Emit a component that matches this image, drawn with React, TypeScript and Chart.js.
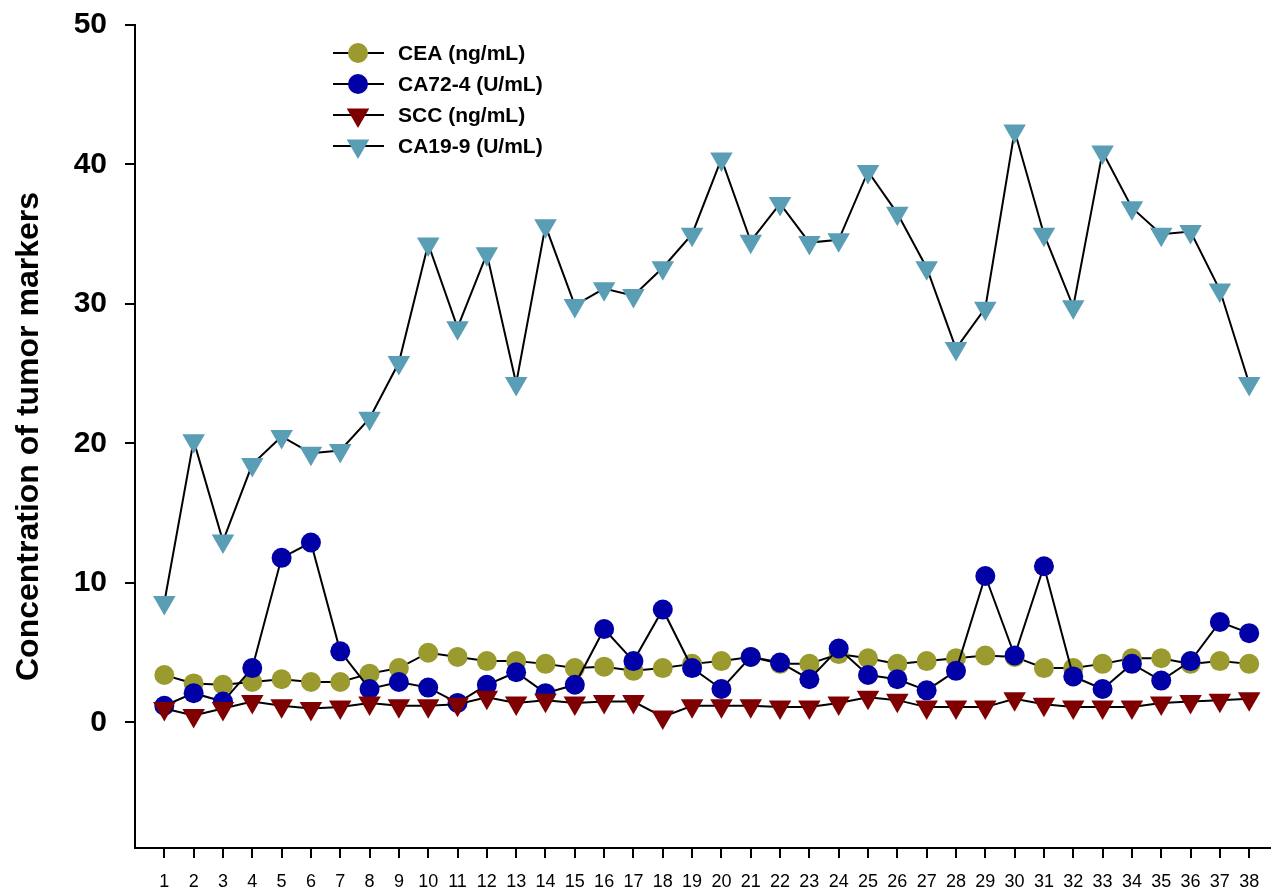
import React, { useEffect, useRef } from "react";
import { Chart, registerables } from "chart.js";

Chart.register(...registerables);

const samples = Array.from({ length: 38 }, (_, i) => i + 1);

const ceaValues = [3.4, 2.8, 2.7, 2.9, 3.1, 2.9, 2.9, 3.5, 3.9, 5.0, 4.7, 4.4, 4.4, 4.2, 3.9, 4.0, 3.7, 3.9, 4.2, 4.4, 4.7, 4.2, 4.2, 4.9, 4.6, 4.2, 4.4, 4.6, 4.8, 4.7, 3.9, 3.9, 4.2, 4.6, 4.6, 4.2, 4.4, 4.2];
const ca724Values = [1.2, 2.1, 1.5, 3.9, 11.8, 12.9, 5.1, 2.4, 2.9, 2.5, 1.4, 2.7, 3.6, 2.1, 2.7, 6.7, 4.4, 8.1, 3.9, 2.4, 4.7, 4.3, 3.1, 5.3, 3.4, 3.1, 2.3, 3.7, 10.5, 4.8, 11.2, 3.3, 2.4, 4.2, 3.0, 4.4, 7.2, 6.4];
const sccValues = [1.0, 0.5, 1.0, 1.5, 1.2, 1.0, 1.1, 1.4, 1.2, 1.2, 1.3, 1.8, 1.4, 1.6, 1.4, 1.5, 1.5, 0.4, 1.2, 1.2, 1.2, 1.1, 1.1, 1.4, 1.8, 1.6, 1.1, 1.1, 1.1, 1.7, 1.3, 1.1, 1.1, 1.1, 1.4, 1.5, 1.6, 1.7];
const ca199Values = [8.6, 20.2, 13.0, 18.5, 20.5, 19.3, 19.5, 21.8, 25.8, 34.3, 28.3, 33.6, 24.3, 35.6, 29.9, 31.1, 30.6, 32.6, 35.0, 40.4, 34.5, 37.2, 34.4, 34.6, 39.5, 36.5, 32.6, 26.8, 29.7, 42.4, 35.0, 29.8, 40.9, 36.9, 35.0, 35.2, 31.0, 24.3];

const yTicks = [0, 10, 20, 30, 40, 50];

const seriesNames = ["CEA (ng/mL)", "CA72-4 (U/mL)", "SCC (ng/mL)", "CA19-9 (U/mL)"];
const seriesColors = ["#9a9a2e", "#0000a6", "#7f0000", "#5a9eb5"];
const seriesShapes = ["circle", "circle", "triangleDown", "triangleDown"];

const FONT = "'Liberation Sans', Arial, sans-serif";

function drawMarker(ctx: CanvasRenderingContext2D, shape: string, x: number, y: number, color: string) {
  ctx.save();
  ctx.fillStyle = color;
  ctx.beginPath();
  if (shape === "circle") {
    ctx.arc(x, y, 10, 0, Math.PI * 2);
  } else {
    const r = 13;
    let rad = Math.PI;
    ctx.moveTo(x + Math.sin(rad) * r, y - Math.cos(rad) * r);
    rad += (2 * Math.PI) / 3;
    ctx.lineTo(x + Math.sin(rad) * r, y - Math.cos(rad) * r);
    rad += (2 * Math.PI) / 3;
    ctx.lineTo(x + Math.sin(rad) * r, y - Math.cos(rad) * r);
    ctx.closePath();
  }
  ctx.fill();
  ctx.restore();
}

const legendPlugin = {
  id: "customLegend",
  afterDraw(chart: any) {
    const ctx: CanvasRenderingContext2D = chart.ctx;
    const x0 = 333;
    const rowY = [53, 84, 115, 146];
    ctx.save();
    seriesNames.forEach((name, i) => {
      const y = rowY[i];
      ctx.strokeStyle = "#000";
      ctx.lineWidth = 2;
      ctx.beginPath();
      ctx.moveTo(x0, y);
      ctx.lineTo(x0 + 51, y);
      ctx.stroke();
      drawMarker(ctx, seriesShapes[i], x0 + 25, y, seriesColors[i]);
      ctx.fillStyle = "#000";
      ctx.font = `bold 21px ${FONT}`;
      ctx.textBaseline = "middle";
      ctx.textAlign = "left";
      ctx.fillText(name, x0 + 65, y + 1);
    });
    ctx.restore();
  },
};

export default function App() {
  const canvasRef = useRef<HTMLCanvasElement | null>(null);

  useEffect(() => {
    if (!canvasRef.current) return;
    const allValues = [ceaValues, ca724Values, sccValues, ca199Values];
    const orders = [4, 3, 2, 1];
    const datasets = allValues.map((vals, i) => ({
      label: seriesNames[i],
      data: vals.map((v, j) => ({ x: samples[j], y: v })),
      borderColor: "#000",
      borderWidth: 2,
      backgroundColor: seriesColors[i],
      pointBackgroundColor: seriesColors[i],
      pointBorderWidth: 0,
      pointBorderColor: seriesColors[i],
      pointStyle: seriesShapes[i] === "circle" ? "circle" : "triangle",
      rotation: seriesShapes[i] === "circle" ? 0 : 180,
      pointRadius: seriesShapes[i] === "circle" ? 10 : 13,
      tension: 0,
      fill: false,
      clip: false,
      order: orders[i],
    }));

    const chart = new Chart(canvasRef.current, {
      type: "line",
      data: { datasets },
      plugins: [legendPlugin],
      options: {
        animation: false,
        responsive: true,
        maintainAspectRatio: false,
        layout: { autoPadding: false, padding: { top: 25, right: 3, bottom: 0, left: 0 } },
        plugins: {
          legend: { display: false },
          tooltip: { enabled: false },
        },
        scales: {
          x: {
            type: "linear",
            min: 0,
            max: 38.71,
            afterBuildTicks: (scale: any) => {
              scale.ticks = samples.map((v) => ({ value: v }));
            },
            afterFit: (scale: any) => {
              scale.height = 42;
              scale.paddingLeft = 0;
              scale.paddingRight = 0;
              scale.paddingTop = 0;
              scale.paddingBottom = 0;
            },
            grid: {
              drawOnChartArea: false,
              drawTicks: true,
              tickLength: 10,
              color: "#000",
              lineWidth: 2,
            },
            border: { display: true, color: "#000", width: 2 },
            ticks: {
              autoSkip: false,
              maxRotation: 0,
              padding: 13,
              color: "#000",
              font: { family: FONT, size: 18 },
              callback: (v: any) => String(v),
            },
          },
          y: {
            type: "linear",
            min: -9,
            max: 50,
            afterBuildTicks: (scale: any) => {
              scale.ticks = yTicks.map((v) => ({ value: v }));
            },
            afterFit: (scale: any) => {
              scale.width = 135;
              scale.paddingLeft = 0;
              scale.paddingRight = 0;
              scale.paddingTop = 0;
              scale.paddingBottom = 0;
            },
            grid: {
              drawOnChartArea: false,
              drawTicks: true,
              tickLength: 10,
              color: "#000",
              lineWidth: 2,
            },
            border: { display: true, color: "#000", width: 2 },
            ticks: {
              padding: 18,
              color: "#000",
              font: { family: FONT, size: 30, weight: "bold" },
              callback: (v: any) => String(v),
            },
            title: {
              display: true,
              text: "Concentration of tumor markers",
              color: "#000",
              font: { family: FONT, size: 32, weight: "bold" },
              padding: { top: 10, bottom: 0 },
            },
          },
        },
      },
    });
    return () => chart.destroy();
  }, []);

  return (
    <div style={{ position: "absolute", left: 0, top: 0, width: 1273, height: 890, background: "#fff" }}>
      <canvas ref={canvasRef} />
    </div>
  );
}
